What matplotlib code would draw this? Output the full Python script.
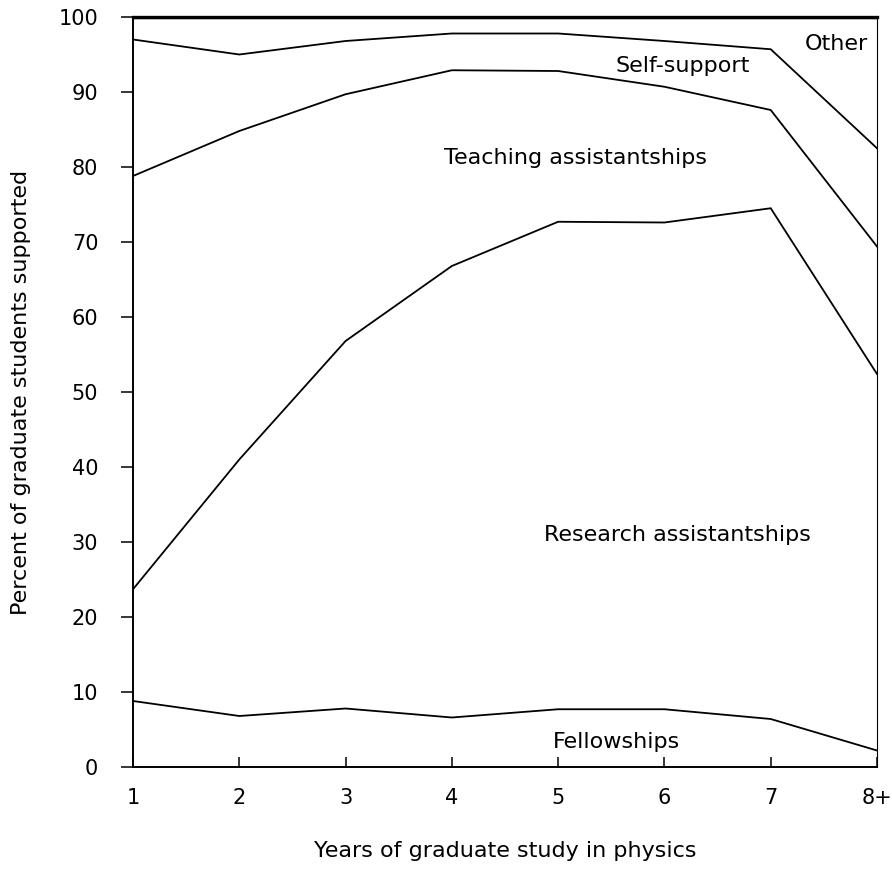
import matplotlib
matplotlib.use("Agg")
import matplotlib.pyplot as plt

years = ["1", "2", "3", "4", "5", "6", "7", "8+"]
fellowships = [8.8, 6.8, 7.8, 6.6, 7.7, 7.7, 6.4, 2.2]
research_cum = [23.7, 41.0, 56.8, 66.8, 72.7, 72.6, 74.5, 52.4]
teaching_cum = [78.8, 84.8, 89.7, 92.9, 92.8, 90.7, 87.6, 69.4]
selfsupport_cum = [97.0, 95.0, 96.8, 97.8, 97.8, 96.8, 95.7, 82.5]
other_cum = [100, 100, 100, 100, 100, 100, 100, 100]
yticks = [0, 10, 20, 30, 40, 50, 60, 70, 80, 90, 100]

plt.rcParams['font.family'] = ['DejaVu Sans']
fig = plt.figure(figsize=(8.92, 8.69), dpi=100)
ax = fig.add_axes([133/892, 1 - 767/869, (877-133)/892, (767-17)/869])

x = list(range(1, len(years) + 1))
lw = 1.3
for series in (fellowships, research_cum, teaching_cum, selfsupport_cum):
    ax.plot(x, series, color='black', lw=lw, solid_joinstyle='miter')
ax.plot(x, other_cum, color='black', lw=2.4)

ax.set_xlim(1, len(years))
ax.set_ylim(0, 100)
ax.set_xticks(x)
ax.set_xticklabels(years)
ax.set_yticks(yticks)

ax.tick_params(axis='x', direction='in', length=7, width=1.1, pad=15, labelsize=15)
ax.tick_params(axis='y', direction='out', length=9, width=1.1, pad=16, labelsize=15)
for s in ax.spines.values():
    s.set_color('black')
ax.spines['left'].set_linewidth(1.4)
ax.spines['bottom'].set_linewidth(1.4)
ax.spines['right'].set_linewidth(0.8)
ax.spines['top'].set_linewidth(2.4)

fs = 16
ax.text(7.62, 96.4, "Other", ha='center', va='center', fontsize=fs)
ax.text(6.17, 93.5, "Self-support", ha='center', va='center', fontsize=fs)
ax.text(5.16, 81.2, "Teaching assistantships", ha='center', va='center', fontsize=fs)
ax.text(6.12, 30.9, "Research assistantships", ha='center', va='center', fontsize=fs)
ax.text(5.55, 3.3, "Fellowships", ha='center', va='center', fontsize=fs)

ax.set_xlabel("Years of graduate study in physics", fontsize=fs, labelpad=24)
ax.set_ylabel("Percent of graduate students supported", fontsize=fs, labelpad=20)

fig.savefig("out.png", dpi=100)
